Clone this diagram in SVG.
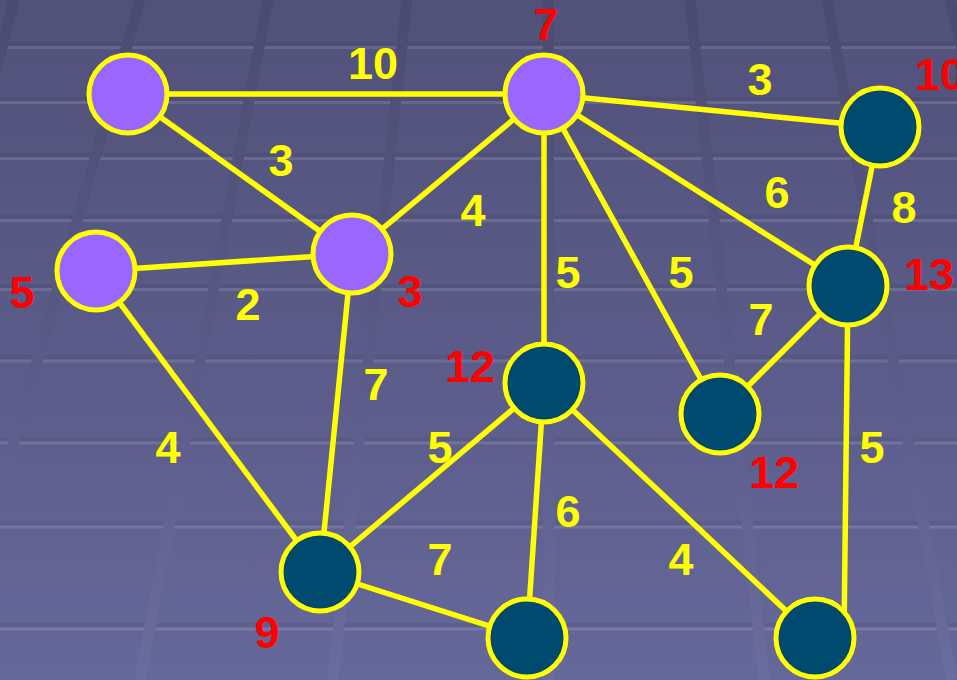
<svg xmlns="http://www.w3.org/2000/svg" width="957" height="680" viewBox="0 0 957 680">
<defs>
<linearGradient id="bg" x1="0" y1="0" x2="0" y2="680" gradientUnits="userSpaceOnUse">
<stop offset="0" stop-color="#51517a"/>
<stop offset="0.5" stop-color="#5a5b88"/>
<stop offset="1" stop-color="#66689a"/>
</linearGradient>
<linearGradient id="st" x1="0" y1="0" x2="0" y2="680" gradientUnits="userSpaceOnUse">
<stop offset="0" stop-color="#4b4b71"/>
<stop offset="0.55" stop-color="#5a5b89"/>
<stop offset="1" stop-color="#6b6d9e"/>
</linearGradient>
<style>
.hd{stroke:#000;stroke-opacity:0.05;stroke-width:4}
.hl{stroke:#fff;stroke-opacity:0.12;stroke-width:3}
.sp{stroke:url(#st);stroke-width:11;fill:none}
.e{stroke:#ffff00;stroke-width:5.5;fill:none}
.np{fill:#9966ff;stroke:#ffff00;stroke-width:5}
.nd{fill:#00496f;stroke:#ffff00;stroke-width:5}
.w{font-family:"Liberation Sans",Arial,sans-serif;font-weight:bold;font-size:45px;fill:#ffff00;text-anchor:middle}
.r{font-family:"Liberation Sans",Arial,sans-serif;font-weight:bold;font-size:45px;fill:#ff0000;text-anchor:middle}
</style>
</defs>
<rect width="957" height="680" fill="url(#bg)"/>
<g id="background-grid">
<line class="hd" x1="0" y1="44" x2="957" y2="44"/><line class="hl" x1="0" y1="47.5" x2="957" y2="47.5"/>
<line class="hd" x1="0" y1="99" x2="957" y2="99"/><line class="hl" x1="0" y1="102.5" x2="957" y2="102.5"/>
<line class="hd" x1="0" y1="155" x2="957" y2="155"/><line class="hl" x1="0" y1="158.5" x2="957" y2="158.5"/>
<line class="hd" x1="0" y1="217" x2="957" y2="217"/><line class="hl" x1="0" y1="220.5" x2="957" y2="220.5"/>
<line class="hd" x1="0" y1="286" x2="957" y2="286"/><line class="hl" x1="0" y1="289.5" x2="957" y2="289.5"/>
<line class="hd" x1="0" y1="357" x2="957" y2="357"/><line class="hl" x1="0" y1="361" x2="957" y2="361"/>
<line class="hd" x1="0" y1="439" x2="957" y2="439"/><line class="hl" x1="0" y1="443" x2="957" y2="443"/>
<line class="hd" x1="0" y1="523" x2="957" y2="523"/><line class="hl" x1="0" y1="527" x2="957" y2="527"/>
<line class="hd" x1="0" y1="625" x2="957" y2="625"/><line class="hl" x1="0" y1="629" x2="957" y2="629"/>
<line class="sp" x1="14" y1="0" x2="-160" y2="680"/>
<line class="sp" x1="140" y1="0" x2="-54" y2="680"/>
<line class="sp" x1="268" y1="0" x2="140" y2="680"/>
<line class="sp" x1="407" y1="0" x2="333" y2="680"/>
<line class="sp" x1="548" y1="0" x2="549" y2="680"/>
<line class="sp" x1="690" y1="0" x2="764" y2="680"/>
<line class="sp" x1="827" y1="0" x2="952" y2="680"/>
<line class="sp" x1="950" y1="0" x2="1120" y2="680"/>
</g>
<g id="connectors">
<line class="e" x1="128" y1="94" x2="544" y2="94"/>
<line class="e" x1="128" y1="94" x2="352" y2="254"/>
<line class="e" x1="352" y1="254" x2="544" y2="94"/>
<line class="e" x1="96" y1="271" x2="352" y2="254"/>
<line class="e" x1="96" y1="271" x2="320" y2="572"/>
<line class="e" x1="352" y1="254" x2="320" y2="572"/>
<line class="e" x1="544" y1="94" x2="544" y2="383"/>
<line class="e" x1="544" y1="94" x2="720" y2="414"/>
<line class="e" x1="544" y1="94" x2="848" y2="286"/>
<line class="e" x1="544" y1="94" x2="880" y2="127"/>
<line class="e" x1="880" y1="127" x2="848" y2="286"/>
<line class="e" x1="848" y1="286" x2="720" y2="414"/>
<line class="e" x1="848" y1="286" x2="844" y2="638"/>
<line class="e" x1="544" y1="383" x2="320" y2="572"/>
<line class="e" x1="544" y1="383" x2="527" y2="638"/>
<line class="e" x1="544" y1="383" x2="815" y2="638"/>
<line class="e" x1="320" y1="572" x2="527" y2="638"/>
</g>
<g id="edge-labels">
<text class="w" x="373" y="79">10</text>
<text class="w" x="281" y="176">3</text>
<text class="w" x="473" y="226">4</text>
<text class="w" x="248" y="320">2</text>
<text class="w" x="168" y="463">4</text>
<text class="w" x="376" y="400">7</text>
<text class="w" x="568" y="288">5</text>
<text class="w" x="681" y="288">5</text>
<text class="w" x="777" y="208">6</text>
<text class="w" x="760" y="95">3</text>
<text class="w" x="904" y="223">8</text>
<text class="w" x="761" y="335">7</text>
<text class="w" x="872" y="463">5</text>
<text class="w" x="440" y="463">5</text>
<text class="w" x="568" y="527">6</text>
<text class="w" x="681" y="575">4</text>
<text class="w" x="440" y="575">7</text>
</g>
<g id="node-A"><circle class="np" cx="128" cy="94" r="39"/></g>
<g id="node-B"><circle class="np" cx="544" cy="94" r="39"/><text class="r" x="546" y="40">7</text></g>
<g id="node-C"><circle class="np" cx="352" cy="254" r="39"/><text class="r" x="410" y="307">3</text></g>
<g id="node-D"><circle class="np" cx="96" cy="271" r="39"/><text class="r" x="22" y="308">5</text></g>
<g id="node-E"><circle class="nd" cx="880" cy="127" r="39"/><text class="r" x="915" y="90" style="text-anchor:start">10</text></g>
<g id="node-F"><circle class="nd" cx="848" cy="286" r="39"/><text class="r" x="929" y="290">13</text></g>
<g id="node-G"><circle class="nd" cx="544" cy="383" r="39"/><text class="r" x="470" y="382">12</text></g>
<g id="node-H"><circle class="nd" cx="720" cy="414" r="39"/><text class="r" x="774" y="488">12</text></g>
<g id="node-I"><circle class="nd" cx="320" cy="572" r="39"/><text class="r" x="267" y="648">9</text></g>
<g id="node-J"><circle class="nd" cx="527" cy="638" r="39"/></g>
<g id="node-K"><circle class="nd" cx="815" cy="638" r="39"/></g>
</svg>
